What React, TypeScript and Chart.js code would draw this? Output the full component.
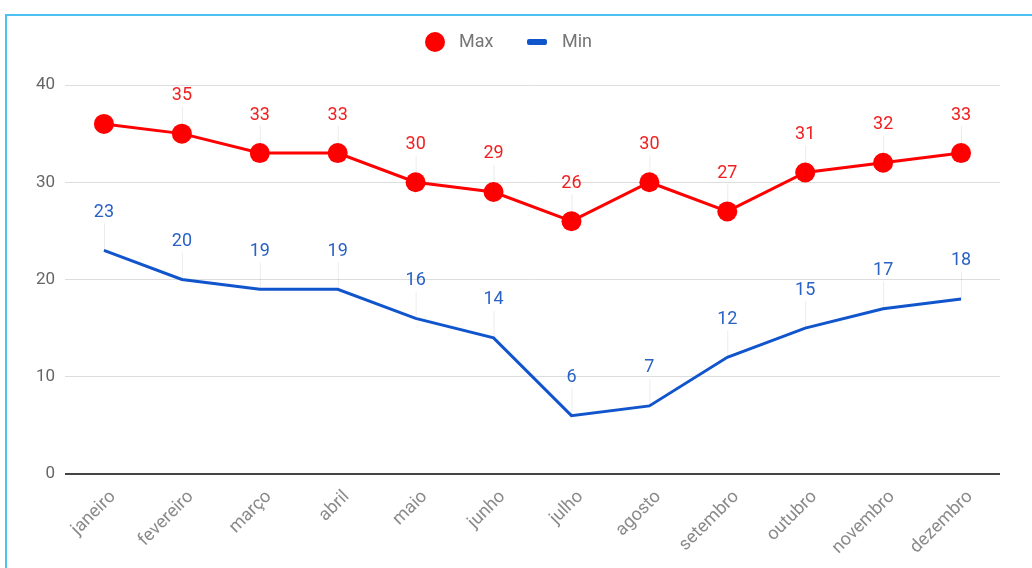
import React, { useEffect, useRef } from "react";
import { Chart, registerables } from "chart.js";

Chart.register(...registerables);

const months = ["janeiro", "fevereiro", "março", "abril", "maio", "junho", "julho", "agosto", "setembro", "outubro", "novembro", "dezembro"];
const maxValues = [36, 35, 33, 33, 30, 29, 26, 30, 27, 31, 32, 33];
const minValues = [23, 20, 19, 19, 16, 14, 6, 7, 12, 15, 17, 18];
const maxHiddenLabels = [0];
const yTicks = [0, 10, 20, 30, 40];

const RED = "#ff0000";
const BLUE = "#1155cc";
const FONT = "Roboto";

const labelPlugin = {
  id: "pointLabels",
  afterDatasetsDraw(chart: any) {
    const ctx = chart.ctx;
    ctx.save();
    chart.data.datasets.forEach((ds: any, di: number) => {
      const meta = chart.getDatasetMeta(di);
      meta.data.forEach((pt: any, i: number) => {
        if (di === 0 && maxHiddenLabels.includes(i)) return;
        const x = pt.x;
        const y = pt.y;
        ctx.strokeStyle = "rgba(0,0,0,0.08)";
        ctx.lineWidth = 1;
        ctx.beginPath();
        ctx.moveTo(x + 0.5, y);
        ctx.lineTo(x + 0.5, y - 27);
        ctx.stroke();
        ctx.fillStyle = ds.labelColor;
        ctx.font = `18px ${FONT}`;
        ctx.textAlign = "center";
        ctx.textBaseline = "middle";
        ctx.fillText(String(ds.data[i]), x, y - 38);
      });
    });
    ctx.restore();
  },
};

const xLabelPlugin = {
  id: "xLabels",
  afterDraw(chart: any) {
    const ctx = chart.ctx;
    const xs = chart.scales.x;
    ctx.save();
    ctx.font = `18px ${FONT}`;
    ctx.fillStyle = "#8a8a8a";
    ctx.textAlign = "right";
    ctx.textBaseline = "middle";
    chart.data.labels.forEach((lab: string, i: number) => {
      const x = xs.getPixelForTick(i);
      ctx.save();
      ctx.translate(x + 9, chart.chartArea.bottom + 20);
      ctx.rotate(-Math.PI / 4);
      ctx.fillText(lab, 0, 0);
      ctx.restore();
    });
    ctx.restore();
  },
};

const legendPlugin = {
  id: "customLegend",
  afterDraw(chart: any) {
    const ctx = chart.ctx;
    ctx.save();
    const cy = 42;
    ctx.fillStyle = RED;
    ctx.beginPath();
    ctx.arc(435, cy, 10, 0, Math.PI * 2);
    ctx.fill();
    ctx.font = `18px ${FONT}`;
    ctx.fillStyle = "#757575";
    ctx.textBaseline = "middle";
    ctx.textAlign = "left";
    ctx.fillText(chart.data.datasets[0].label, 459, cy);
    ctx.fillStyle = BLUE;
    ctx.beginPath();
    ctx.roundRect(527, cy - 3, 20, 6, 2);
    ctx.fill();
    ctx.fillStyle = "#757575";
    ctx.fillText(chart.data.datasets[1].label, 562, cy);
    ctx.restore();
  },
};

export default function App() {
  const ref = useRef<HTMLCanvasElement>(null);
  useEffect(() => {
    document.body.style.margin = "0";
    const chart = new Chart(ref.current!, {
      type: "line",
      data: {
        labels: months,
        datasets: [
          {
            label: "Max",
            data: maxValues,
            borderColor: RED,
            backgroundColor: RED,
            borderWidth: 3,
            pointRadius: 10,
            pointHoverRadius: 10,
            pointBackgroundColor: RED,
            pointBorderWidth: 0,
            labelColor: "#f02020",
          } as any,
          {
            label: "Min",
            data: minValues,
            borderColor: BLUE,
            backgroundColor: BLUE,
            borderWidth: 3,
            pointRadius: 0,
            pointHoverRadius: 0,
            labelColor: "#2a62c4",
          } as any,
        ],
      },
      options: {
        animation: false,
        responsive: false,
        maintainAspectRatio: false,
        layout: { padding: { top: 85, left: 0, right: 32, bottom: 0 } },
        plugins: { legend: { display: false }, tooltip: { enabled: false } },
        scales: {
          x: {
            offset: true,
            grid: { display: false, drawTicks: false },
            border: { display: false },
            ticks: { display: false, autoSkip: false },
            afterFit(scale: any) {
              scale.height = 94;
            },
          },
          y: {
            min: 0,
            max: 40,
            afterBuildTicks(scale: any) {
              scale.ticks = yTicks.map((v) => ({ value: v }));
            },
            grid: {
              color: (c: any) => (c.tick && c.tick.value === 0 ? "#444" : "#dddddd"),
              lineWidth: (c: any) => (c.tick && c.tick.value === 0 ? 2 : 1),
              drawTicks: false,
            },
            border: { display: false },
            ticks: {
              padding: 10,
              color: "#666",
              font: { family: FONT, size: 17 },
            },
            afterFit(scale: any) {
              scale.width = 65;
            },
          },
        },
      },
      plugins: [labelPlugin, xLabelPlugin, legendPlugin],
    });
    return () => chart.destroy();
  }, []);
  return (
    <div style={{ position: "relative", width: 1032, height: 568, overflow: "hidden", background: "#fff" }}>
      <div
        style={{
          position: "absolute",
          left: 5,
          top: 14,
          width: 1100,
          height: 700,
          border: "2px solid #4cc2f2",
          boxSizing: "border-box",
        }}
      />
      <canvas ref={ref} width={1032} height={568} style={{ position: "absolute", left: 0, top: 0 }} />
    </div>
  );
}
